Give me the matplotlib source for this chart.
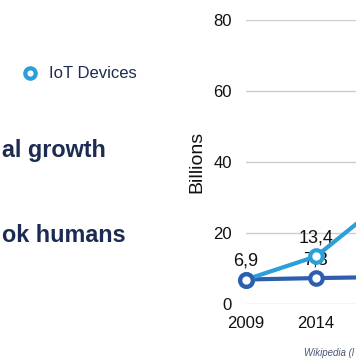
import matplotlib.pyplot as plt
from matplotlib.lines import Line2D

# data (the chart is cropped on the right, so the last point sits off the canvas)
years = ["2009", "2014", "2020"]
iot_devices = [6.9, 13.4, 29.3]
humans = [6.9, 7.3, 7.6]
point_labels_iot = ["6,9", "13,4", ""]
point_labels_humans = ["", "7,3", ""]
y_ticks = [0, 20, 40, 60, 80]

LIGHT = "#2b9fd9"
DARK = "#2d5fae"
NAVY = "#1c2b52"

plt.rcParams['font.family'] = ['Liberation Sans', 'DejaVu Sans']

fig = plt.figure(figsize=(3.56, 3.64), dpi=100)
W, H = 356, 364

# axes run past the right edge of the figure
ax = fig.add_axes([246 / W, 60 / H, 280 / W, 284 / H])
x = list(range(len(years)))

ax.plot(x, humans, color=DARK, lw=3, marker='o', ms=9, mfc='white',
        mec=DARK, mew=3, clip_on=False, zorder=3)
ax.plot(x, iot_devices, color=LIGHT, lw=3, marker='o', ms=9, mfc='white',
        mec=LIGHT, mew=3, clip_on=False, zorder=4)
# first point: dark marker drawn on top
ax.plot(x[:1], humans[:1], linestyle='none', marker='o', ms=9, mfc='white',
        mec=DARK, mew=3, clip_on=False, zorder=5)

for xi, v, lab in zip(x, iot_devices, point_labels_iot):
    if lab:
        ax.annotate(lab, (xi, v), xytext=(0, 13), textcoords='offset points',
                    ha='center', va='center', fontsize=13, color='#111111')
for xi, v, lab in zip(x, humans, point_labels_humans):
    if lab:
        ax.annotate(lab, (xi, v), xytext=(0, 13), textcoords='offset points',
                    ha='center', va='center', fontsize=13, color='#111111')

ax.set_xlim(0, 4)
ax.set_ylim(0, 80)
# only the first two year labels fall inside the cropped canvas
ax.set_xticks(x[:2])
ax.set_xticklabels(years[:2])
ax.set_yticks(y_ticks)
ax.tick_params(axis='both', length=0, labelsize=12, colors='#111111')
ax.tick_params(axis='y', pad=10)
ax.tick_params(axis='x', pad=9)
ax.grid(axis='y', color='#cccccc', lw=1)
ax.set_axisbelow(True)
for s in ax.spines.values():
    s.set_visible(False)
ax.set_ylabel("Billions", fontsize=14, color='#111111', labelpad=6)

# legend entry
handle = Line2D([], [], linestyle='none', marker='o', ms=7.5, mfc='white',
                mec=LIGHT, mew=3)
fig.legend([handle], ["IoT Devices"], loc='center left',
           bbox_to_anchor=(7 / W, 1 - 74 / H), frameon=False, fontsize=12,
           labelcolor=NAVY, handlelength=1.0, handletextpad=0.6)

# cropped headline text on the left
fig.text(2 / W, 1 - 150 / H, "al growth", fontsize=16.8, fontweight='bold',
         color=NAVY, ha='left', va='center')
fig.text(2 / W, 1 - 235 / H, "ok humans", fontsize=16.8, fontweight='bold',
         color=NAVY, ha='left', va='center')

fig.text(354 / W, 1 - 353 / H, "Wikipedia (l", fontsize=7, style='italic',
         color='#4a5578', ha='right', va='center')

fig.savefig("out.png", dpi=100)
